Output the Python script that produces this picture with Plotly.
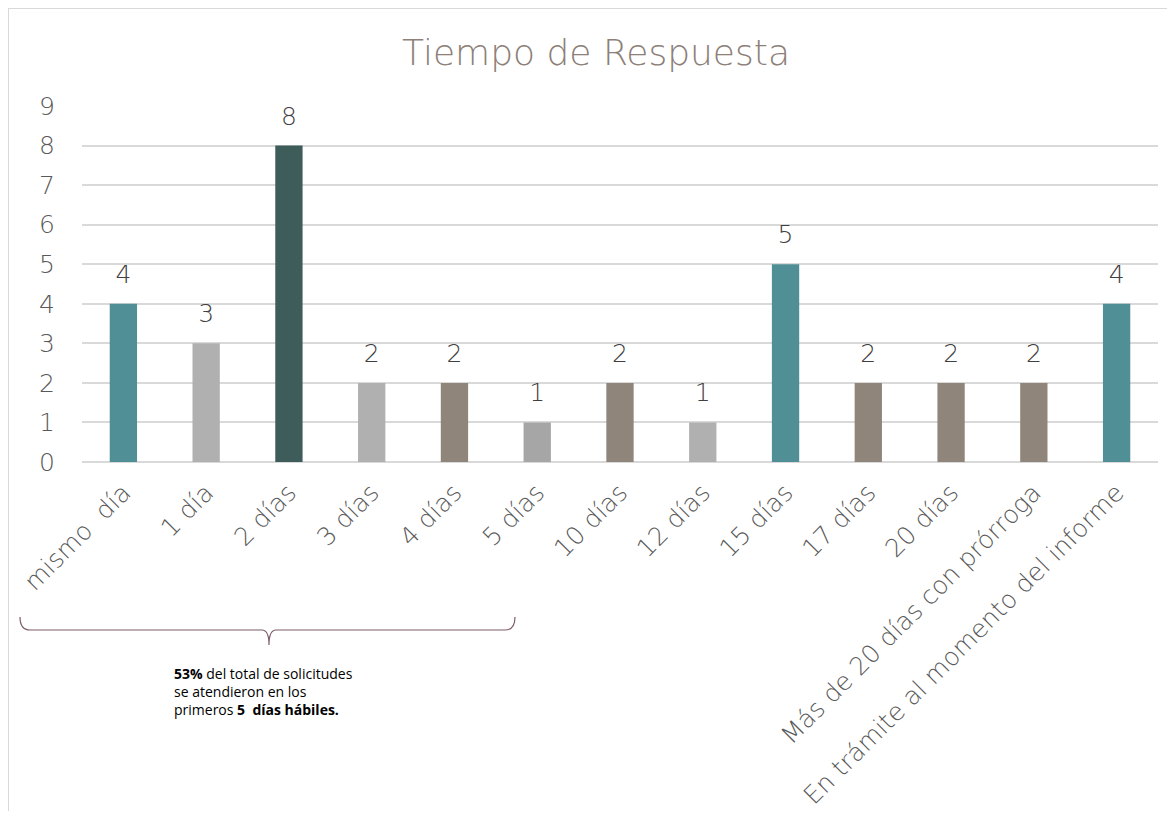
import plotly.graph_objects as go

categories = ["mismo  día", "1 día", "2 días", "3 días", "4 días", "5 días", "10 días",
              "12 días", "15 días", "17 días", "20 días",
              "Más de 20 días con prórroga", "En trámite al momento del informe"]
values = [4, 3, 8, 2, 2, 1, 2, 1, 5, 2, 2, 2, 4]
bar_colors = ["#518f96", "#b0b0b0", "#3d5c5a", "#b0b0b0", "#8f857b", "#a6a6a6", "#8f857b",
              "#b0b0b0", "#518f96", "#8f857b", "#8f857b", "#8f857b", "#518f96"]
y_ticks = list(range(0, 10))
title_text = "Tiempo de Respuesta"
note_text = ("<b>53%</b> del total de solicitudes<br>se atendieron en los<br>"
             "primeros <b>5  días hábiles.</b>")

# page body has an 8px margin: work in reference pixels and shift by OFF
OFF = 8
W, H = 1175 - OFF, 819 - 2 * OFF
L, R, T, B = 82 - OFF, 17, 106 - OFF, H - (462 - OFF)
PW, PH = W - L - R, H - T - B

def px(x):
    return (x - OFF - L) / PW

def py(y):
    return (H - B - (y - OFF)) / PH

FONT = "DejaVu Sans"

fig = go.Figure()
fig.add_trace(go.Bar(
    x=categories, y=values, marker_color=bar_colors, marker_line_width=0,
    hoverinfo="skip",
))
# value labels, placed above the bars with a little extra gap
fig.add_trace(go.Scatter(
    x=categories, y=values, mode="markers+text", text=[str(v) for v in values],
    textposition="top center", cliponaxis=False,
    marker=dict(size=22, opacity=0),
    textfont=dict(size=25, color="#404040", family=FONT, weight=200),
    hoverinfo="skip",
))

fig.update_layout(
    width=W, height=H,
    margin=dict(l=L, r=R, t=T, b=B, autoexpand=False),
    paper_bgcolor="white", plot_bgcolor="white",
    bargap=0.67, showlegend=False,
    title=dict(text=title_text, x=(596 - OFF) / W, xref="container", xanchor="center",
               y=1 - (52 - OFF) / H, yref="container", yanchor="middle",
               font=dict(size=36, color="#8c8078", family=FONT, weight=200)),
    font=dict(family=FONT),
)
fig.update_yaxes(range=[0, 9], tickvals=y_ticks, showgrid=True, gridcolor="#d9d9d9",
                 gridwidth=2, zeroline=True, zerolinecolor="#d9d9d9", zerolinewidth=2,
                 showline=False, ticklabelstandoff=26, automargin=False,
                 tickfont=dict(size=25, color="#595959", family=FONT, weight=200))
fig.update_xaxes(range=[-0.5, len(categories) - 0.5], tickangle=-45, showgrid=False,
                 showline=False, ticks="", ticklabelstandoff=10, automargin=False,
                 tickfont=dict(size=25, color="#595959", family=FONT, weight=200))

# outer frame
fig.add_shape(type="rect", xref="paper", yref="paper",
              x0=px(8), x1=px(1200), y0=py(840), y1=py(8),
              line=dict(color="#d9d9d9", width=2), fillcolor="rgba(0,0,0,0)", layer="below")

# brace
brace = (f"M {px(20)},{py(617)} Q {px(20)},{py(630)} {px(30)},{py(630)} "
         f"L {px(262)},{py(630)} Q {px(269)},{py(630)} {px(269)},{py(645)} "
         f"Q {px(269)},{py(630)} {px(276)},{py(630)} "
         f"L {px(505)},{py(630)} Q {px(515)},{py(630)} {px(515)},{py(617)}")
fig.add_shape(type="path", xref="paper", yref="paper", path=brace,
              line=dict(color="#7d5a6a", width=1.2))

fig.add_annotation(xref="paper", yref="paper", x=px(172), y=py(662), xanchor="left",
                   yanchor="top", align="left", showarrow=False, text=note_text,
                   font=dict(size=14, color="#000000", family="Open Sans"))

fig.write_html("out.html")
